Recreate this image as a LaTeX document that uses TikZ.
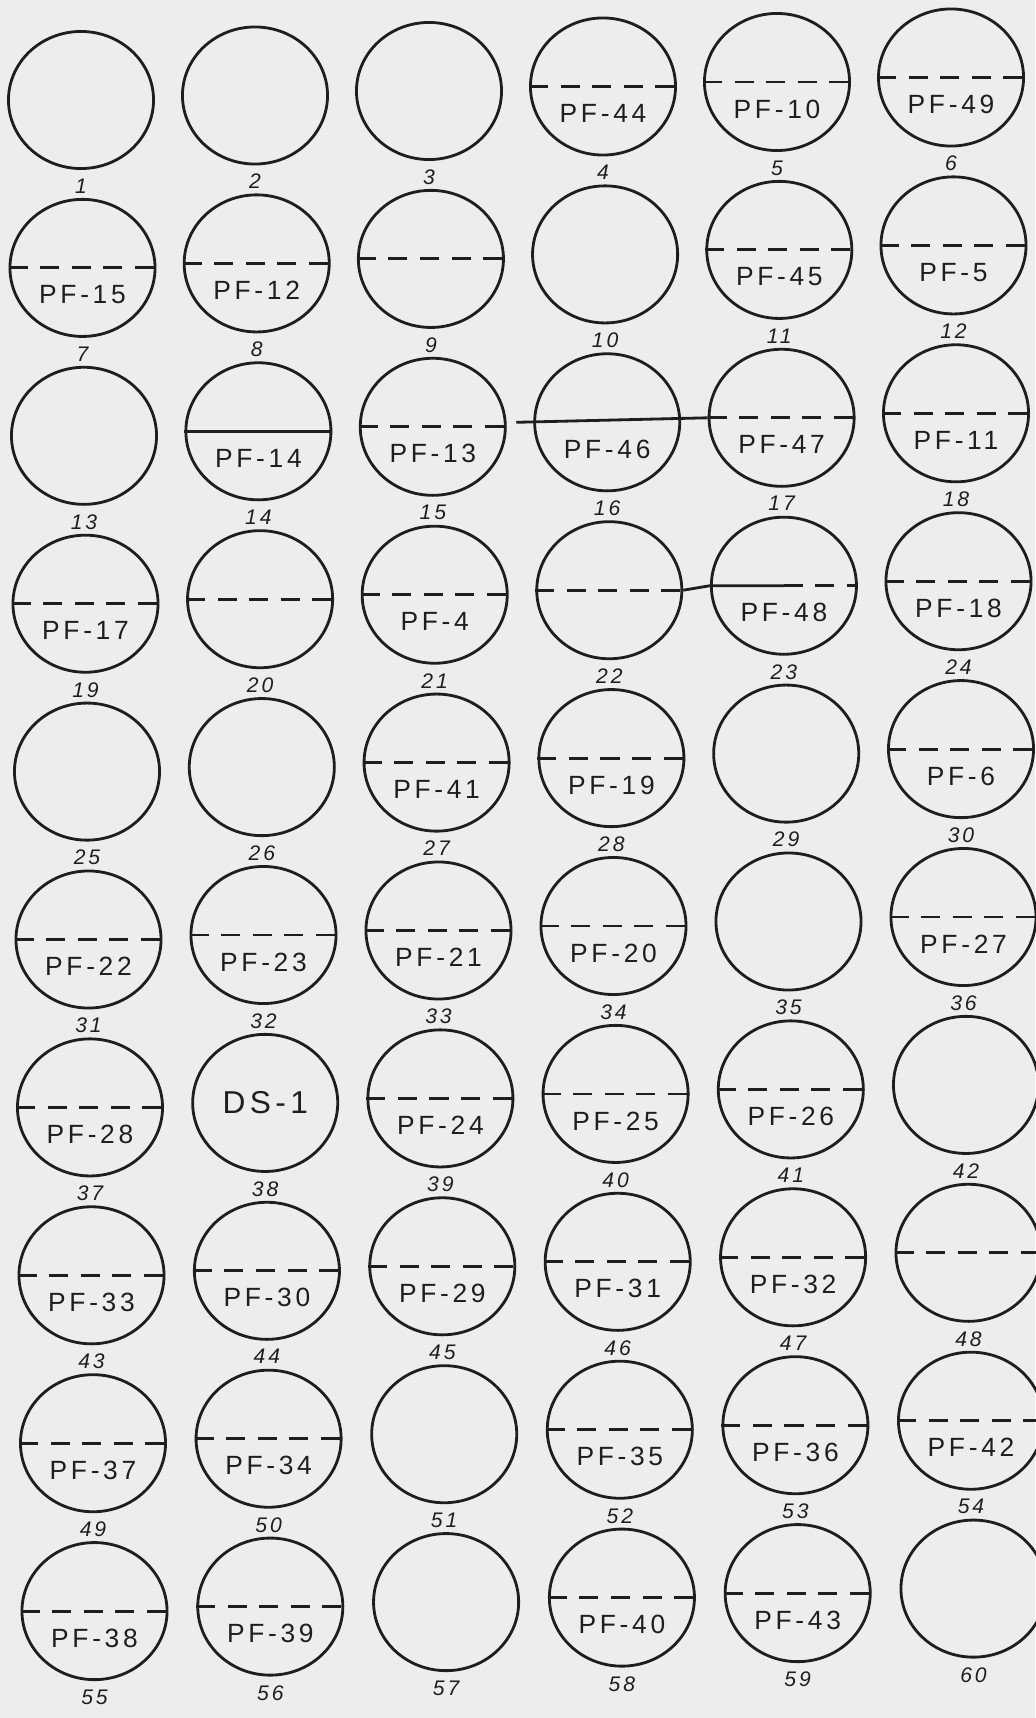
\documentclass[tikz,border=0pt]{standalone}
\usepackage{fontspec}
\setmainfont{Liberation Sans}
\newfontfamily\handfont[LetterSpace=14]{Liberation Sans}
\usepackage{tikz}
\usetikzlibrary{shapes.geometric, positioning, calc}
\definecolor{PaperGrey}{HTML}{EDEDED}
\definecolor{InkBlack}{HTML}{1E1E1E}
\tikzset{
    % Fuel cell outline
    cell/.style={
        ellipse,
        draw=InkBlack,
        line width=0.8pt,
        minimum width=1.45cm,
        minimum height=1.37cm,
        inner sep=0pt
    },
    % Dashed split line
    cut/.style={
        draw=InkBlack,
        line width=0.8pt,
        dash pattern=on 0.19cm off 0.125cm
    },
    % Solid split line
    split/.style={
        draw=InkBlack,
        line width=0.8pt
    },
    % Specimen label
    pf/.style={
        font=\handfont\fontsize{7.5}{8}\selectfont,
        text=InkBlack,
        inner sep=0pt
    },
    % Cell number
    num/.style={
        font=\handfont\itshape\fontsize{6}{7}\selectfont,
        text=InkBlack,
        inner sep=0pt
    }
}

\begin{document}
\begin{tikzpicture}[x=0.01cm, y=-0.01cm]
    \useasboundingbox[fill=PaperGrey] (0,0) rectangle (1035,1718);

    % Grid of cells
    \foreach \r in {0,...,9} {
        \foreach \c in {0,...,5} {
            \pgfmathtruncatemacro{\n}{6*\r+\c+1}
            \node (c\n) [cell] at ({81+1.5*\r+\c*(174+0.2*\r)}, {100+167.9*\r-4.5*\c}) {};
            \node (n\n) [num, below=0.08cm of c\n] {\n};
        }
    }

    % Dashed splits with specimen labels
    \foreach \n/\txt in {4/PF-44, 5/PF-10, 6/PF-49, 7/PF-15, 8/PF-12, 11/PF-45, 12/PF-5,
                        15/PF-13, 17/PF-47, 18/PF-11, 19/PF-17, 21/PF-4, 24/PF-18,
                        27/PF-41, 28/PF-19, 30/PF-6, 31/PF-22, 32/PF-23, 33/PF-21,
                        34/PF-20, 36/PF-27, 37/PF-28, 39/PF-24, 40/PF-25, 41/PF-26,
                        43/PF-33, 44/PF-30, 45/PF-29, 46/PF-31, 47/PF-32, 49/PF-37,
                        50/PF-34, 52/PF-35, 53/PF-36, 54/PF-42, 55/PF-38, 56/PF-39,
                        58/PF-40, 59/PF-43} {
        \draw [cut] (c\n.west) -- (c\n.east);
        \node (pf\n) [pf, yshift=-0.27cm] at (c\n) {\txt};
    }

    % Dashed splits without label
    \foreach \n in {9, 20, 22, 48} {
        \draw [cut] (c\n.west) -- (c\n.east);
    }

    % Solid splits
    \draw [split] (c14.west) -- (c14.east);
    \node (pf14) [pf, yshift=-0.27cm] at (c14) {PF-14};
    \coordinate (lead16) at ($(c16.west)+(-17,0)$);
    \draw [split] (lead16) -- (c17.west);
    \node (pf16) [pf, yshift=-0.27cm] at (c16) {PF-46};
    \draw [split] (c22.east) -- (c23.west) -- (c23.center);
    \draw [cut] (c23.center) -- (c23.east);
    \node (pf23) [pf, yshift=-0.27cm] at (c23) {PF-48};

    % Dummy cell
    \node (ds38) [pf, font=\handfont\fontsize{9}{10}\selectfont] at (c38) {DS-1};
\end{tikzpicture}
\end{document}
